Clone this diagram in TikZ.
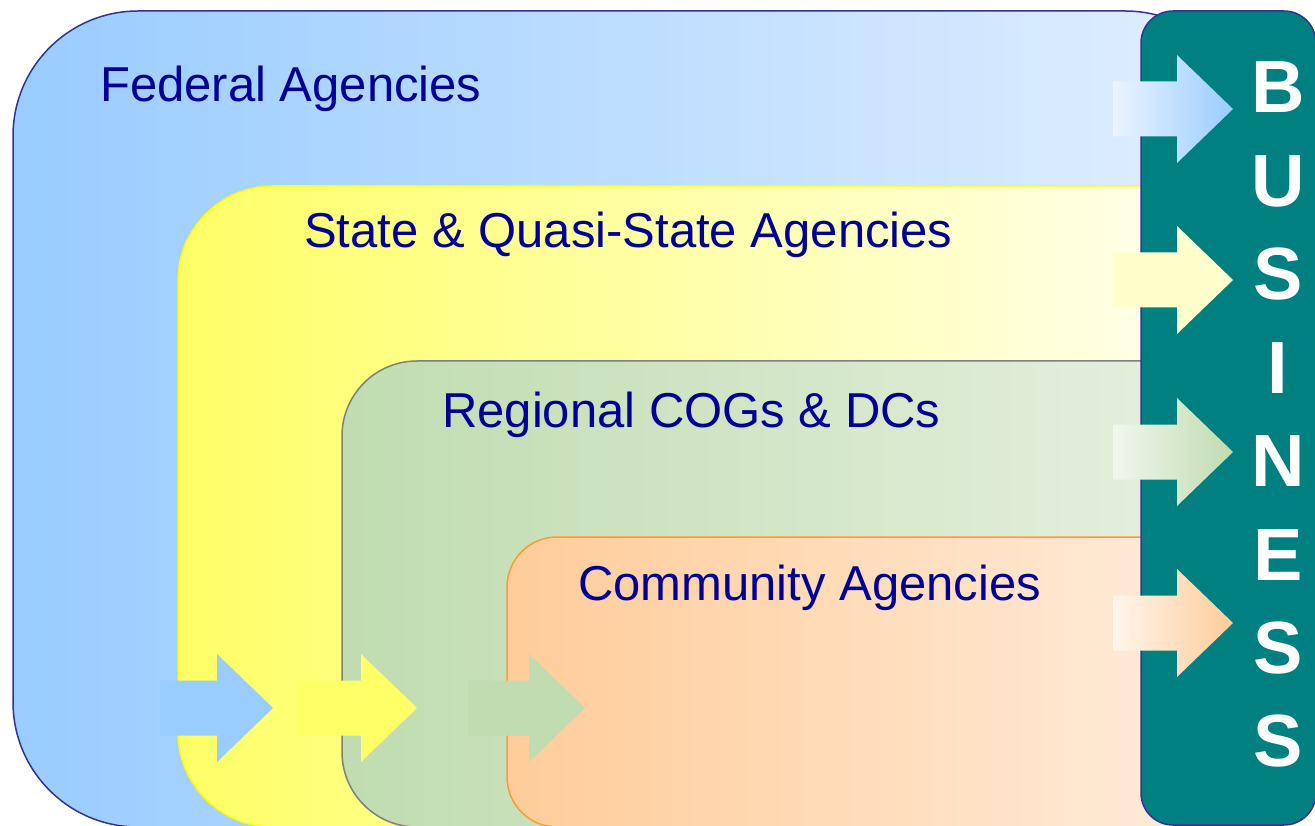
\documentclass[tikz,border=0pt]{standalone}
\usepackage{fontspec}
\setmainfont{Liberation Sans}
\definecolor{fedL}{HTML}{99CCFF}
\definecolor{fedR}{HTML}{E2EFFF}
\definecolor{fedline}{HTML}{333399}
\definecolor{stL}{HTML}{FFFF66}
\definecolor{stR}{HTML}{FFFFF4}
\definecolor{stline}{HTML}{FFFF00}
\definecolor{rgL}{HTML}{C0DCB0}
\definecolor{rgR}{HTML}{E8F1E2}
\definecolor{rgline}{HTML}{808080}
\definecolor{cmL}{HTML}{FFCC99}
\definecolor{cmR}{HTML}{FFEEDF}
\definecolor{cmline}{HTML}{FF9933}
\definecolor{teal}{HTML}{008080}
\definecolor{lblblue}{HTML}{000099}
\definecolor{arrY}{HTML}{FFFFCC}
\newcommand{\myarrow}[5]{%
  \path[#5] (#1,#4-27.5) -- (#2,#4-27.5) -- (#2,#4-54) -- (#3,#4) --
    (#2,#4+54) -- (#2,#4+27.5) -- (#1,#4+27.5) -- cycle;}
\begin{document}
\begin{tikzpicture}[x=1pt,y=-1pt,
  lbl/.style={anchor=base west, text=lblblue, inner sep=0pt,
    font=\fontsize{49}{55}\selectfont},
  biz/.style={anchor=base, text=white, inner sep=0pt,
    font=\bfseries\fontsize{74}{80}\selectfont},
  tier/.style={line width=1.5pt}]
\useasboundingbox (0,0) rectangle (1315,826);
\clip (0,0) rectangle (1315,826);
% tiers
\path[tier, draw=fedline, left color=fedL, right color=fedR, rounded corners=125pt]
  (13,11) rectangle (1250,827);
\path[tier, draw=stline, left color=stL, right color=stR, rounded corners=95pt]
  (178,186) rectangle (1250,827);
\path[tier, draw=rgline, left color=rgL, right color=rgR, rounded corners=75pt]
  (342,361) rectangle (1250,827);
\path[tier, draw=cmline, left color=cmL, right color=cmR, rounded corners=50pt]
  (507,537) rectangle (1250,827);
% bottom arrows
\myarrow{160}{217}{273}{708}{fill=fedL}
\myarrow{297}{361}{417}{708}{fill=stL}
\myarrow{468}{529}{585}{708}{fill=rgL}
% business box
\path[draw=fedline, line width=1.5pt, fill=teal, rounded corners=32pt]
  (1141,11) rectangle (1316,825);
% right arrows
\myarrow{1113}{1177}{1233}{109}{left color=fedR!70!white, right color=fedL}
\myarrow{1113}{1177}{1233}{280}{fill=arrY}
\myarrow{1113}{1177}{1233}{452}{left color=rgR!60!white, right color=rgL}
\myarrow{1113}{1177}{1233}{623}{left color=cmR!60!white, right color=cmL}
% labels
\node[lbl] (fed) at (100,102) {Federal Agencies};
\node[lbl] (state) at (304,248) {State \& Quasi-State Agencies};
\node[lbl] (reg) at (442,427) {Regional COGs \& DCs};
\node[lbl] (com) at (578,600) {Community Agencies};
% BUSINESS
\node[biz] (b1) at (1278,113) {B};
\node[biz] (b2) at (1278,206.4) {U};
\node[biz] (b3) at (1278,299.8) {S};
\node[biz] (b4) at (1278,393.2) {I};
\node[biz] (b5) at (1278,486.6) {N};
\node[biz] (b6) at (1278,580) {E};
\node[biz] (b7) at (1278,673.4) {S};
\node[biz] (b8) at (1278,766.8) {S};
\end{tikzpicture}
\end{document}
